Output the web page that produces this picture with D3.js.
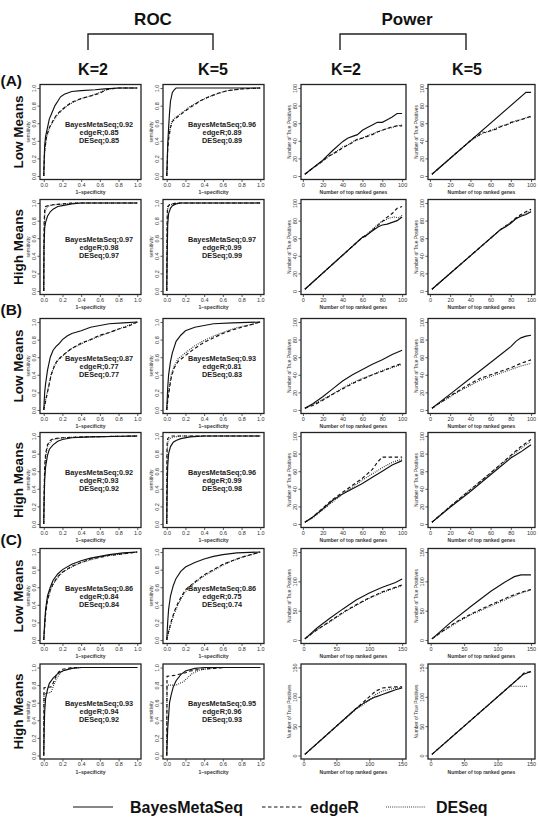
<!DOCTYPE html>
<html>
<head>
<meta charset="utf-8">
<script src="https://cdn.jsdelivr.net/npm/d3@7"></script>
<style>
  body { margin: 0; background: #fff; }
  svg { display: block; font-family: "Liberation Sans", Arial, Helvetica, sans-serif; }
</style>
</head>
<body>
<svg id="fig" width="539" height="833"></svg>
<script>
// ---- labels ----
var methods = ["BayesMetaSeq", "edgeR", "DESeq"];
var groupLabels = ["(A)", "(B)", "(C)"];
var rowLabels = ["Low Means", "High Means"];
var kLabels = ["K=2", "K=5"];
var rocTicks = [0, 0.2, 0.4, 0.6, 0.8, 1.0];
var powTicks100 = [0, 20, 40, 60, 80, 100];
var powTicks150 = [0, 50, 100, 150];

// AUC per row (A low, A high, B low, B high, C low, C high), [K=2, K=5], [Bayes, edgeR, DESeq]
var aucA_low  = [[0.92, 0.85, 0.85], [0.96, 0.89, 0.89]];
var aucA_high = [[0.97, 0.98, 0.97], [0.97, 0.99, 0.99]];
var aucB_low  = [[0.87, 0.77, 0.77], [0.93, 0.81, 0.83]];
var aucB_high = [[0.92, 0.93, 0.92], [0.96, 0.99, 0.98]];
var aucC_low  = [[0.86, 0.84, 0.84], [0.86, 0.75, 0.74]];
var aucC_high = [[0.93, 0.94, 0.92], [0.95, 0.96, 0.93]];

// ---- ROC curves [1-specificity, sensitivity] ----
var rocA_low_K2 = {
  bayes: [[0,0],[0.005,0.2],[0.01,0.35],[0.02,0.45],[0.04,0.55],[0.06,0.65],[0.08,0.7],[0.1,0.75],[0.12,0.8],[0.15,0.85],[0.18,0.9],[0.22,0.93],[0.3,0.96],[0.4,0.97],[0.55,0.98],[0.65,0.99],[0.8,1],[1,1]],
  edgeR: [[0,0],[0.01,0.3],[0.03,0.45],[0.06,0.55],[0.1,0.63],[0.14,0.7],[0.2,0.76],[0.25,0.8],[0.3,0.84],[0.4,0.88],[0.5,0.91],[0.6,0.94],[0.65,0.97],[0.7,0.99],[0.8,1],[1,1]],
  deseq: [[0,0],[0.01,0.28],[0.03,0.44],[0.06,0.54],[0.1,0.62],[0.14,0.69],[0.2,0.75],[0.25,0.8],[0.3,0.83],[0.4,0.88],[0.5,0.91],[0.6,0.95],[0.67,0.98],[0.72,0.99],[0.8,1],[1,1]]
};
var rocA_low_K5 = {
  bayes: [[0,0],[0.005,0.15],[0.01,0.35],[0.02,0.55],[0.03,0.72],[0.04,0.85],[0.06,0.95],[0.08,0.98],[0.1,1],[1,1]],
  edgeR: [[0,0],[0.005,0.1],[0.01,0.3],[0.02,0.42],[0.04,0.55],[0.06,0.62],[0.1,0.66],[0.15,0.7],[0.2,0.74],[0.25,0.78],[0.3,0.81],[0.35,0.85],[0.45,0.9],[0.55,0.94],[0.65,0.97],[0.8,0.99],[1,1]],
  deseq: [[0,0],[0.005,0.12],[0.01,0.32],[0.02,0.44],[0.04,0.56],[0.06,0.63],[0.1,0.67],[0.15,0.71],[0.2,0.75],[0.25,0.79],[0.3,0.82],[0.35,0.85],[0.45,0.9],[0.55,0.94],[0.65,0.97],[0.8,0.99],[1,1]]
};
var rocA_high_K2 = {
  bayes: [[0,0],[0.003,0.5],[0.01,0.72],[0.02,0.78],[0.04,0.85],[0.07,0.9],[0.1,0.93],[0.15,0.96],[0.2,0.97],[0.3,0.99],[0.4,1],[1,1]],
  edgeR: [[0,0],[0.002,0.6],[0.005,0.8],[0.01,0.92],[0.02,0.96],[0.05,0.97],[0.1,0.98],[0.2,0.99],[0.3,1],[1,1]],
  deseq: [[0,0],[0.003,0.6],[0.008,0.8],[0.015,0.9],[0.03,0.95],[0.06,0.97],[0.1,0.98],[0.25,0.99],[0.35,1],[1,1]]
};
var rocA_high_K5 = {
  bayes: [[0,0],[0.005,0.4],[0.01,0.75],[0.02,0.88],[0.04,0.94],[0.06,0.97],[0.1,0.99],[0.15,1],[1,1]],
  edgeR: [[0,0],[0.003,0.7],[0.006,0.9],[0.01,0.96],[0.03,0.98],[0.06,0.99],[0.1,1],[1,1]],
  deseq: [[0,0],[0.003,0.65],[0.007,0.88],[0.012,0.95],[0.03,0.98],[0.08,0.99],[0.12,1],[1,1]]
};
var rocB_low_K2 = {
  bayes: [[0,0],[0.01,0.2],[0.02,0.3],[0.04,0.45],[0.07,0.6],[0.1,0.68],[0.13,0.72],[0.16,0.75],[0.2,0.8],[0.25,0.84],[0.3,0.87],[0.4,0.9],[0.5,0.94],[0.6,0.96],[0.7,0.98],[0.85,0.99],[1,1]],
  edgeR: [[0,0],[0.02,0.1],[0.05,0.25],[0.08,0.4],[0.12,0.52],[0.15,0.57],[0.2,0.62],[0.25,0.66],[0.3,0.7],[0.4,0.76],[0.5,0.8],[0.6,0.85],[0.7,0.88],[0.8,0.92],[0.9,0.95],[1,1]],
  deseq: [[0,0],[0.02,0.12],[0.05,0.26],[0.08,0.41],[0.12,0.51],[0.15,0.56],[0.2,0.61],[0.25,0.66],[0.3,0.7],[0.4,0.75],[0.5,0.8],[0.6,0.84],[0.7,0.88],[0.8,0.92],[0.9,0.96],[1,1]]
};
var rocB_low_K5 = {
  bayes: [[0,0],[0.01,0.25],[0.02,0.4],[0.04,0.55],[0.06,0.65],[0.1,0.78],[0.15,0.85],[0.2,0.9],[0.3,0.94],[0.4,0.96],[0.5,0.98],[0.7,0.99],[1,1]],
  edgeR: [[0,0],[0.01,0.1],[0.03,0.25],[0.05,0.38],[0.08,0.48],[0.12,0.55],[0.2,0.62],[0.3,0.7],[0.4,0.77],[0.5,0.82],[0.6,0.87],[0.7,0.91],[0.8,0.94],[0.9,0.97],[1,1]],
  deseq: [[0,0],[0.01,0.12],[0.03,0.28],[0.05,0.41],[0.08,0.5],[0.12,0.58],[0.2,0.65],[0.3,0.73],[0.4,0.79],[0.5,0.84],[0.6,0.88],[0.7,0.92],[0.8,0.95],[0.9,0.97],[1,1]]
};
var rocB_high_K2 = {
  bayes: [[0,0],[0.005,0.3],[0.01,0.5],[0.02,0.65],[0.04,0.78],[0.06,0.85],[0.1,0.9],[0.15,0.94],[0.2,0.96],[0.3,0.98],[0.5,0.99],[1,1]],
  edgeR: [[0,0],[0.005,0.4],[0.01,0.65],[0.02,0.8],[0.04,0.9],[0.07,0.95],[0.1,0.97],[0.2,0.98],[0.4,0.99],[1,1]],
  deseq: [[0,0],[0.005,0.38],[0.01,0.6],[0.02,0.76],[0.04,0.88],[0.07,0.93],[0.1,0.96],[0.2,0.98],[0.4,0.99],[1,1]]
};
var rocB_high_K5 = {
  bayes: [[0,0],[0.005,0.4],[0.01,0.65],[0.02,0.8],[0.04,0.88],[0.07,0.93],[0.1,0.95],[0.15,0.97],[0.25,0.99],[0.4,1],[1,1]],
  edgeR: [[0,0],[0.002,0.8],[0.005,0.93],[0.01,0.97],[0.03,0.99],[0.06,1],[1,1]],
  deseq: [[0,0],[0.003,0.7],[0.008,0.88],[0.015,0.94],[0.03,0.97],[0.08,0.99],[0.15,1],[1,1]]
};
var rocC_low_K2 = {
  bayes: [[0,0],[0.01,0.2],[0.02,0.35],[0.04,0.5],[0.07,0.6],[0.1,0.68],[0.15,0.75],[0.2,0.8],[0.3,0.86],[0.4,0.9],[0.5,0.93],[0.6,0.95],[0.7,0.97],[0.85,0.99],[1,1]],
  edgeR: [[0,0],[0.01,0.15],[0.02,0.3],[0.04,0.45],[0.07,0.57],[0.1,0.64],[0.15,0.72],[0.2,0.77],[0.3,0.84],[0.4,0.88],[0.5,0.92],[0.6,0.94],[0.7,0.96],[0.85,0.98],[1,1]],
  deseq: [[0,0],[0.01,0.16],[0.02,0.31],[0.04,0.46],[0.07,0.56],[0.1,0.63],[0.15,0.71],[0.2,0.77],[0.3,0.83],[0.4,0.88],[0.5,0.91],[0.6,0.94],[0.7,0.96],[0.85,0.98],[1,1]]
};
var rocC_low_K5 = {
  bayes: [[0,0],[0.01,0.2],[0.02,0.35],[0.04,0.5],[0.07,0.62],[0.1,0.7],[0.15,0.78],[0.2,0.83],[0.3,0.88],[0.4,0.92],[0.5,0.95],[0.6,0.97],[0.75,0.99],[1,1]],
  edgeR: [[0,0],[0.02,0.1],[0.05,0.22],[0.08,0.32],[0.12,0.42],[0.16,0.5],[0.2,0.57],[0.3,0.66],[0.4,0.74],[0.5,0.8],[0.6,0.86],[0.7,0.9],[0.8,0.94],[0.9,0.97],[1,1]],
  deseq: [[0,0],[0.02,0.09],[0.05,0.2],[0.08,0.3],[0.12,0.4],[0.16,0.48],[0.2,0.55],[0.3,0.65],[0.4,0.73],[0.5,0.79],[0.6,0.85],[0.7,0.9],[0.8,0.94],[0.9,0.97],[1,1]]
};
var rocC_high_K2 = {
  bayes: [[0,0],[0.005,0.3],[0.01,0.5],[0.02,0.65],[0.04,0.75],[0.06,0.82],[0.1,0.88],[0.15,0.93],[0.2,0.96],[0.3,0.99],[0.4,1],[1,1]],
  edgeR: [[0,0],[0.003,0.77],[0.08,0.78],[0.1,0.82],[0.13,0.9],[0.16,0.95],[0.2,0.98],[0.3,1],[1,1]],
  deseq: [[0,0],[0.003,0.7],[0.08,0.72],[0.1,0.78],[0.13,0.86],[0.17,0.93],[0.22,0.97],[0.3,0.99],[0.4,1],[1,1]]
};
var rocC_high_K5 = {
  bayes: [[0,0],[0.01,0.3],[0.02,0.45],[0.03,0.6],[0.05,0.7],[0.07,0.78],[0.1,0.85],[0.15,0.92],[0.2,0.96],[0.3,0.99],[0.4,1],[1,1]],
  edgeR: [[0,0],[0.003,0.9],[0.08,0.91],[0.12,0.92],[0.2,0.94],[0.25,0.96],[0.35,0.98],[0.5,0.99],[0.6,1],[1,1]],
  deseq: [[0,0],[0.003,0.8],[0.1,0.8],[0.18,0.84],[0.22,0.88],[0.27,0.93],[0.35,0.97],[0.45,0.99],[0.6,1],[1,1]]
};

// ---- Power curves [number of top ranked genes, number of true positives] ----
var powA_low_K2 = {
  bayes: [[2,2],[10,9],[20,18],[30,29],[40,39],[45,43],[50,45],[55,47],[60,52],[65,55],[70,58],[75,61],[80,61],[85,64],[90,67],[95,71],[100,71]],
  edgeR: [[2,2],[10,9],[20,17],[25,22],[30,25],[35,28],[40,32],[45,35],[50,38],[55,42],[60,43],[65,45],[70,47],[75,50],[80,52],[85,54],[90,56],[95,57],[100,57]],
  deseq: [[2,2],[10,9],[20,17],[25,21],[30,25],[35,29],[40,33],[45,35],[50,39],[55,41],[60,43],[65,46],[70,48],[75,50],[80,52],[85,54],[90,55],[95,57],[100,58]]
};
var powA_low_K5 = {
  bayes: [[2,2],[95,95],[100,95]],
  edgeR: [[2,2],[40,40],[44,44],[48,46],[52,50],[56,49],[60,52],[65,53],[70,56],[75,58],[80,61],[85,62],[90,64],[95,66],[100,68]],
  deseq: [[2,2],[40,40],[46,44],[50,47],[55,50],[60,51],[65,54],[70,57],[75,58],[80,60],[85,63],[90,64],[95,66],[100,67]]
};
var powA_high_K2 = {
  bayes: [[2,2],[60,61],[63,62],[67,66],[72,70],[76,73],[80,75],[85,76],[90,78],[95,80],[100,84]],
  edgeR: [[2,2],[60,61],[65,64],[70,69],[75,74],[80,79],[85,84],[90,88],[95,94],[100,96]],
  deseq: [[2,2],[60,61],[66,66],[72,72],[78,78],[82,80],[87,83],[92,84],[97,83],[100,86]]
};
var powA_high_K5 = {
  bayes: [[2,2],[70,70],[75,73],[80,77],[85,82],[90,85],[95,87],[100,90]],
  edgeR: [[2,2],[70,70],[75,74],[80,78],[85,83],[90,87],[95,90],[100,93]],
  deseq: [[2,2],[70,70],[80,78],[85,82],[90,86],[95,88],[100,91]]
};
var powB_low_K2 = {
  bayes: [[2,2],[10,7],[20,15],[30,24],[40,33],[50,40],[60,46],[70,52],[80,57],[90,63],[100,68]],
  edgeR: [[2,2],[10,5],[20,11],[30,18],[40,24],[50,30],[60,35],[70,40],[80,44],[90,49],[100,53]],
  deseq: [[2,2],[10,6],[20,12],[30,18],[40,25],[50,31],[60,36],[70,40],[80,45],[90,48],[100,52]]
};
var powB_low_K5 = {
  bayes: [[2,2],[20,18],[40,36],[60,54],[80,72],[85,78],[90,82],[95,84],[100,85]],
  edgeR: [[2,2],[20,16],[30,23],[40,30],[50,36],[60,40],[70,44],[80,48],[90,53],[100,57]],
  deseq: [[2,2],[20,15],[30,22],[40,28],[50,34],[60,38],[70,42],[80,46],[90,50],[100,53]]
};
var powB_high_K2 = {
  bayes: [[2,2],[10,8],[20,17],[30,27],[40,34],[50,40],[60,46],[70,53],[80,60],[90,67],[100,72]],
  edgeR: [[2,2],[10,8],[20,18],[30,28],[40,36],[50,44],[60,52],[70,62],[75,70],[80,76],[90,76],[100,76]],
  deseq: [[2,2],[10,7],[20,16],[30,25],[40,34],[50,42],[60,50],[70,57],[80,64],[90,70],[100,74]]
};
var powB_high_K5 = {
  bayes: [[2,2],[20,19],[40,37],[60,56],[80,75],[90,82],[95,86],[100,90]],
  edgeR: [[2,2],[20,20],[40,39],[60,58],[80,78],[90,88],[100,96]],
  deseq: [[2,2],[20,20],[40,39],[60,58],[80,77],[90,86],[100,94]]
};
var powC_low_K2 = {
  bayes: [[2,2],[20,20],[40,37],[60,53],[80,68],[100,80],[120,90],[140,98],[150,104]],
  edgeR: [[2,2],[20,17],[40,32],[60,47],[80,60],[100,72],[120,82],[140,90],[150,94]],
  deseq: [[2,2],[20,17],[40,31],[60,46],[80,59],[100,71],[120,81],[140,89],[150,93]]
};
var powC_low_K5 = {
  bayes: [[2,2],[30,30],[60,57],[90,83],[110,98],[125,108],[135,111],[150,111]],
  edgeR: [[2,2],[20,17],[40,32],[60,44],[80,55],[100,65],[120,75],[140,83],[150,86]],
  deseq: [[2,2],[20,16],[40,30],[60,43],[80,53],[100,63],[120,73],[140,82],[150,85]]
};
var powC_high_K2 = {
  bayes: [[2,2],[80,80],[90,88],[100,95],[110,100],[120,104],[130,108],[140,112],[150,115]],
  edgeR: [[2,2],[80,80],[90,90],[100,100],[110,110],[120,115],[135,117],[150,117]],
  deseq: [[2,2],[80,79],[90,86],[100,94],[110,104],[120,110],[135,114],[150,116]]
};
var powC_high_K5 = {
  bayes: [[2,2],[130,130],[138,138],[145,141],[150,143]],
  edgeR: [[2,2],[130,130],[140,141],[150,143]],
  deseq: [[2,2],[118,118],[122,118],[145,118]]
};

// ---- tables built from the arrays above ----
var rocRows = [[rocA_low_K2, rocA_low_K5], [rocA_high_K2, rocA_high_K5],
               [rocB_low_K2, rocB_low_K5], [rocB_high_K2, rocB_high_K5],
               [rocC_low_K2, rocC_low_K5], [rocC_high_K2, rocC_high_K5]];
var powRows = [[powA_low_K2, powA_low_K5], [powA_high_K2, powA_high_K5],
               [powB_low_K2, powB_low_K5], [powB_high_K2, powB_high_K5],
               [powC_low_K2, powC_low_K5], [powC_high_K2, powC_high_K5]];
var aucRows = [aucA_low, aucA_high, aucB_low, aucB_high, aucC_low, aucC_high];
var powMax = [100, 100, 100, 100, 150, 150];

// ---- layout ----
var svg = d3.select("#fig");
var rowTop = [84.5, 199.5, 318.5, 432.5, 548.5, 664];
var boxH = 95;
var colX = [40, 163, 301, 428];
var colW = [101, 101, 105, 107];
var seriesKeys = ["bayes", "edgeR", "deseq"];
var dash = { bayes: null, edgeR: "3.5,2.5", deseq: "0.8,1.3" };

function panel(x0, y0, w, h, xDom, yDom, xTicks, yTicks, fmt, series, xTitle, yTitle) {
  var x = d3.scaleLinear().domain(xDom).range([x0, x0 + w]);
  var y = d3.scaleLinear().domain(yDom).range([y0 + h, y0]);
  var g = svg.append("g");

  var line = d3.line().x(function(d) { return x(d[0]); }).y(function(d) { return y(d[1]); });
  seriesKeys.forEach(function(k) {
    g.append("path")
      .attr("d", line(series[k]))
      .attr("fill", "none")
      .attr("stroke", "#111")
      .attr("stroke-width", 1.15)
      .attr("stroke-dasharray", dash[k]);
  });

  g.append("rect")
    .attr("x", x0).attr("y", y0).attr("width", w).attr("height", h)
    .attr("fill", "none").attr("stroke", "#222").attr("stroke-width", 1.3);

  var xa = g.append("g")
    .attr("transform", "translate(0," + (y0 + h) + ")")
    .call(d3.axisBottom(x).tickValues(xTicks).tickFormat(fmt).tickSize(2.5).tickSizeOuter(0).tickPadding(1));
  var ya = g.append("g")
    .attr("transform", "translate(" + x0 + ",0)")
    .call(d3.axisLeft(y).tickValues(yTicks).tickFormat(fmt).tickSize(2.5).tickSizeOuter(0));
  [xa, ya].forEach(function(a) {
    a.select(".domain").remove();
    a.selectAll("line").attr("stroke", "#333").attr("stroke-width", 0.8);
    a.selectAll("text").attr("font-size", 5.5).attr("fill", "#333").attr("font-family", null);
  });
  ya.selectAll("text")
    .attr("transform", "rotate(-90)")
    .attr("x", 0).attr("y", -4).attr("dy", 0)
    .attr("text-anchor", "middle");

  g.append("text")
    .attr("x", x0 + w / 2).attr("y", y0 + h + 14.5)
    .attr("text-anchor", "middle")
    .attr("font-size", 5).attr("font-weight", "bold").attr("fill", "#333")
    .text(xTitle);
  g.append("text")
    .attr("transform", "translate(" + (x0 - 10) + "," + (y0 + h / 2) + ") rotate(-90)")
    .attr("text-anchor", "middle")
    .attr("font-size", 4.8).attr("fill", "#333")
    .text(yTitle);
  return g;
}

var rocFmt = d3.format(".1f");
var powFmt = d3.format("d");

rocRows.forEach(function(row, r) {
  row.forEach(function(series, k) {
    var g = panel(colX[k], rowTop[r], colW[k], boxH, [-0.04, 1.04], [-0.04, 1.04],
                  rocTicks, rocTicks, rocFmt, series, "1\u2013specificity", "sensitivity");
    var auc = aucRows[r][k];
    methods.forEach(function(m, i) {
      g.append("text")
        .attr("x", colX[k] + colW[k] * 0.585)
        .attr("y", rowTop[r] + 42 + i * 8)
        .attr("text-anchor", "middle")
        .attr("font-size", 7.3).attr("font-weight", "bold").attr("fill", "#222")
        .text(m + ";" + auc[i].toFixed(2));
    });
  });
});

powRows.forEach(function(row, r) {
  var M = powMax[r];
  var pad = 0.04 * (M - 2);
  row.forEach(function(series, k) {
    panel(colX[k + 2], rowTop[r], colW[k + 2], boxH, [2 - pad, M + pad], [-0.04 * M, 1.04 * M],
          M === 150 ? powTicks150 : powTicks100, M === 150 ? powTicks150 : powTicks100, powFmt,
          series, "Number of top ranked genes", "Number of True Positives");
  });
});

// ---- headers ----
function bold(x, y, size, txt, anchor) {
  return svg.append("text").attr("x", x).attr("y", y)
    .attr("text-anchor", anchor || "middle")
    .attr("font-size", size).attr("font-weight", "bold").attr("fill", "#111")
    .text(txt);
}
bold(153, 25, 17, "ROC");
bold(407, 25, 17, "Power");
[[88, 213], [340, 466]].forEach(function(b) {
  svg.append("path")
    .attr("d", "M" + b[0] + ",50V34H" + b[1] + "V50")
    .attr("fill", "none").attr("stroke", "#222").attr("stroke-width", 1.4);
});
[93, 213, 346, 467].forEach(function(cx, i) {
  bold(cx, 75, 16, kLabels[i % 2]);
});

// group and row labels
var groupY = [86, 315, 545];
groupLabels.forEach(function(t, i) { bold(0.5, groupY[i], 15.5, t, "start"); });
rowTop.forEach(function(t, r) {
  svg.append("text")
    .attr("transform", "translate(23," + (t + boxH / 2) + ") rotate(-90)")
    .attr("text-anchor", "middle")
    .attr("font-size", 13.5).attr("font-weight", "bold").attr("fill", "#111")
    .text(rowLabels[r % 2]);
});

// ---- legend ----
var legX = [73, 262, 386];
var legTextX = [130, 310, 436];
seriesKeys.forEach(function(k, i) {
  svg.append("line")
    .attr("x1", legX[i]).attr("x2", legX[i] + 40)
    .attr("y1", 807).attr("y2", 807)
    .attr("stroke", "#111").attr("stroke-width", 1.2)
    .attr("stroke-dasharray", dash[k]);
  bold(legTextX[i], 813, 16, methods[i], "start");
});
</script>
</body>
</html>
